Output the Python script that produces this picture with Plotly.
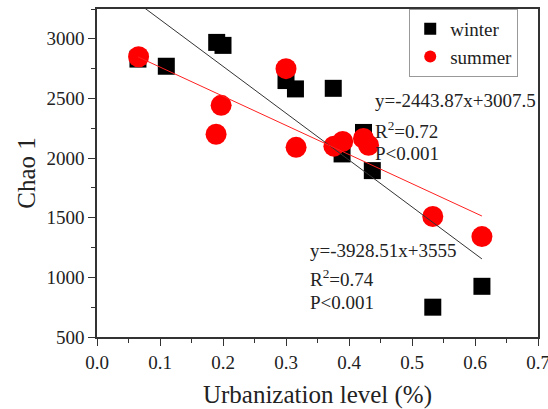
import plotly.graph_objects as go
import numpy as np

# Data
winter_x = [0.065, 0.11, 0.19, 0.20, 0.30, 0.315, 0.375, 0.389, 0.423, 0.437, 0.533, 0.611]
winter_y = [2830, 2770, 2970, 2945, 2650, 2580, 2585, 2035, 2215, 1895, 750, 925]
summer_x = [0.066, 0.189, 0.197, 0.30, 0.316, 0.376, 0.39, 0.423, 0.431, 0.533, 0.611]
summer_y = [2850, 2200, 2442, 2750, 2090, 2100, 2140, 2165, 2108, 1510, 1342]

winter_fit = (-3928.51, 3555.0)
summer_fit = (-2443.87, 3007.5)
fit_x_range = [0.065, 0.611]

FONT = "Liberation Serif"

fig = go.Figure()
fig.add_trace(go.Scatter(x=winter_x, y=winter_y, mode="markers", name="winter",
                         marker=dict(symbol="square", size=17, color="black")))
fig.add_trace(go.Scatter(x=summer_x, y=summer_y, mode="markers", name="summer",
                         marker=dict(symbol="circle", size=21, color="#ff0000")))

fx = np.array(fit_x_range)
fig.add_trace(go.Scatter(x=fx, y=winter_fit[0] * fx + winter_fit[1], mode="lines",
                         line=dict(color="#333333", width=1), showlegend=False))
fig.add_trace(go.Scatter(x=fx, y=summer_fit[0] * fx + summer_fit[1], mode="lines",
                         line=dict(color="#ff2020", width=1), showlegend=False))

ann = [
    (0.4386, 2486, "y=-2443.87x+3007.5"),
    (0.4386, 2234, "R<sup>2</sup>=0.72"),
    (0.4386, 2041, "P<0.001"),
    (0.3354, 1227, "y=-3928.51x+3555"),
    (0.3354, 992, "R<sup>2</sup>=0.74"),
    (0.3354, 791, "P<0.001"),
]
for x, y, t in ann:
    fig.add_annotation(x=x, y=y, text=t, showarrow=False, xanchor="left", yanchor="middle",
                       font=dict(family=FONT, size=19, color="#222"))

axis_common = dict(
    showline=True, linecolor="#333", linewidth=1.5, mirror=True,
    ticks="outside", ticklen=7, tickwidth=1.2, tickcolor="#333",
    showgrid=False, zeroline=False, automargin=False,
    ticklabeloverflow="allow",
    tickfont=dict(family=FONT, size=19, color="#222"),
)

fig.update_xaxes(range=[0, 0.7], dtick=0.1, tick0=0, tickformat=".1f",
                 minor=dict(dtick=0.05, ticks="outside", ticklen=4, tickcolor="#333"),
                 title=dict(text="Urbanization level (%)", font=dict(family=FONT, size=25, color="#222"),
                            standoff=14),
                 **axis_common)
fig.update_yaxes(range=[500, 3250], dtick=500, tick0=500,
                 minor=dict(dtick=250, ticks="outside", ticklen=4, tickcolor="#333"),
                 title=dict(text="Chao 1", font=dict(family=FONT, size=25, color="#222"),
                            standoff=4),
                 **axis_common)

fig.update_layout(
    width=548, height=409,
    margin=dict(l=97, r=10, t=9, b=72, autoexpand=False),
    paper_bgcolor="white", plot_bgcolor="white",
    font=dict(family=FONT, size=19, color="#222"),
    showlegend=True,
    legend=dict(x=0.708, y=1.0, xanchor="left", yanchor="top",
                bordercolor="#999", borderwidth=1, bgcolor="white",
                font=dict(family=FONT, size=19, color="#222"),
                itemsizing="constant"),
)

fig.write_html("out.html", config={"displayModeBar": False},
               post_script="document.body.style.margin='0';document.body.style.padding='0';")
